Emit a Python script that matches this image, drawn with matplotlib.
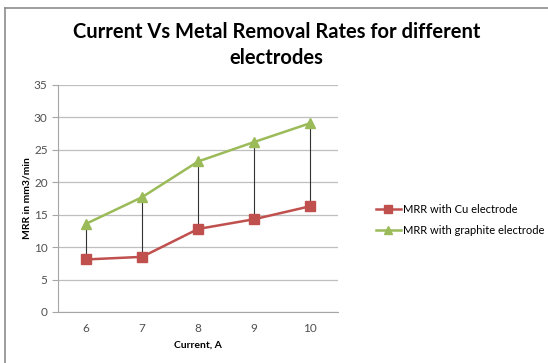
import matplotlib
matplotlib.use('Agg')
import matplotlib.pyplot as plt
from matplotlib.lines import Line2D

current = [6, 7, 8, 9, 10]
mrr_cu = [8.1, 8.5, 12.8, 14.3, 16.3]
mrr_graphite = [13.6, 17.7, 23.2, 26.2, 29.1]
yticks = [0, 5, 10, 15, 20, 25, 30, 35]

plt.rcParams['font.family'] = ['Lato', 'DejaVu Sans']

fig = plt.figure(figsize=(5.48, 3.63), dpi=100)
ax = fig.add_axes([0.106, 0.1405, 0.511, 0.6255])

# outer frame (only left and top visible in the crop)
fig.add_artist(Line2D([5 / 548, 5 / 548], [0, 1 - 8 / 363], color='#8c8c8c', lw=1.2))
fig.add_artist(Line2D([5 / 548, 1], [1 - 8 / 363, 1 - 8 / 363], color='#8c8c8c', lw=1.2))

pos = list(range(len(current)))

# hi-low lines
ax.vlines(pos, mrr_cu, mrr_graphite, color='#333333', lw=0.8, zorder=2)

ax.plot(pos, mrr_cu, color='#C0504D', lw=1.8, marker='s', ms=7,
        label='MRR with Cu electrode', zorder=3)
ax.plot(pos, mrr_graphite, color='#9BBB59', lw=1.8, marker='^', ms=7,
        label='MRR with graphite electrode', zorder=3)

ax.set_xlim(-0.5, len(current) - 0.5)
ax.set_ylim(0, 35)
ax.set_xticks(pos)
ax.set_xticklabels([str(c) for c in current])
ax.set_yticks(yticks)
ax.grid(axis='y', color='#bfbfbf', lw=0.9)
ax.set_axisbelow(True)

for s in ['top', 'right']:
    ax.spines[s].set_visible(False)
for s in ['left', 'bottom']:
    ax.spines[s].set_color('#a6a6a6')
ax.tick_params(axis='x', length=0, pad=8, labelsize=8.5, labelcolor='#505050')
ax.tick_params(axis='y', length=4, color='#a6a6a6', labelsize=8.5, labelcolor='#505050')

ax.set_xlabel('Current, A', fontsize=7.5, fontweight='bold', labelpad=5)
ax.set_ylabel('MRR in mm3/min', fontsize=7.5, fontweight='bold', labelpad=2)

fig.text(0.505, 0.912, 'Current Vs Metal Removal Rates for different',
         ha='center', va='center', fontsize=14.5, fontweight='bold')
fig.text(0.505, 0.84, 'electrodes', ha='center', va='center',
         fontsize=14.5, fontweight='bold')

ax.legend(loc='center left', bbox_to_anchor=(1.1, 0.405), frameon=False,
          fontsize=8, handlelength=2.2, handletextpad=0.2, labelspacing=0.9,
          markerscale=0.8)

fig.savefig('out.png', dpi=100)
